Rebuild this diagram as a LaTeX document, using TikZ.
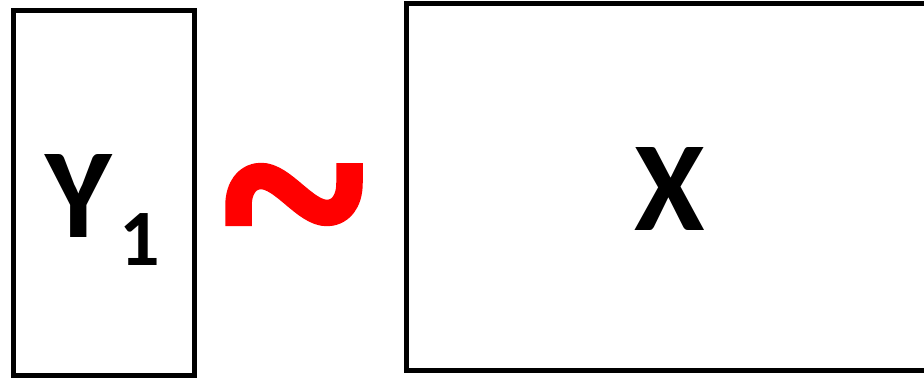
\documentclass[tikz,border=0pt]{standalone}
\usepackage{fontspec}
\setmainfont{Carlito}
\begin{document}
\begin{tikzpicture}[x=1pt,y=-1pt,
  box/.style={draw=black,line width=5pt,inner sep=0pt},
  big/.style={font=\bfseries\fontsize{128}{128}\selectfont,inner sep=0pt,anchor=base},
  sub/.style={font=\bfseries\fontsize{80}{80}\selectfont,inner sep=0pt,anchor=base west}]
\useasboundingbox (0,0) rectangle (924,378);
\node[box,minimum width=181pt,minimum height=365pt] (ybox) at (104,193) {};
\node[box,minimum width=540pt,minimum height=367pt] (xbox) at (676.5,187) {};
\node[big] (y) at (79,237) {Y};
\node[sub] (one) at (119,265) {1};
\node[big] (x) at (670,230) {X};
\draw[red,line width=26.5pt,line cap=butt,line join=round]
  (238.5,226) -- (238.5,206)
  .. controls (238.5,187) and (248,176) .. (261,176)
  .. controls (283,176) and (305,213) .. (327,213)
  .. controls (340,213) and (349.5,202) .. (349.5,183)
  -- (349.5,163);
\end{tikzpicture}
\end{document}
